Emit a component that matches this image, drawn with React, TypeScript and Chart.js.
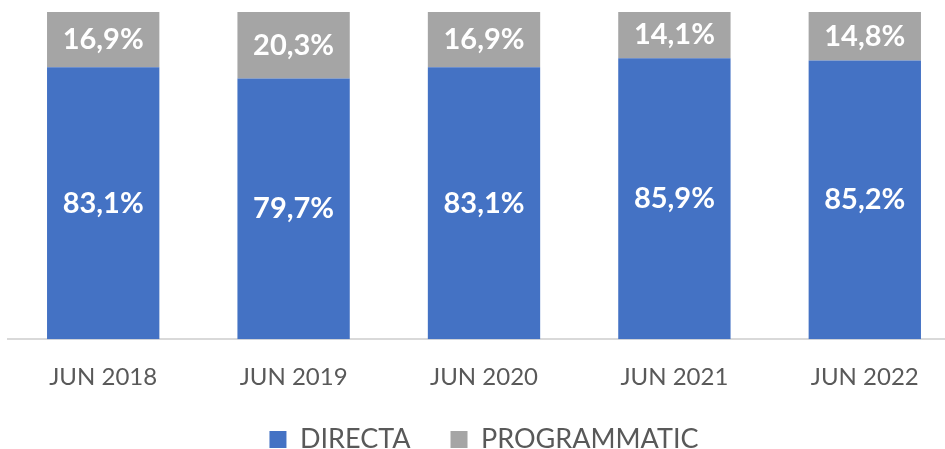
import React, { useEffect, useRef } from "react";
import { Chart, registerables } from "chart.js";

Chart.register(...registerables);

const categories = ["JUN 2018", "JUN 2019", "JUN 2020", "JUN 2021", "JUN 2022"];
const directa = [83.1, 79.7, 83.1, 85.9, 85.2];
const programmatic = [16.9, 20.3, 16.9, 14.1, 14.8];

const labelPlugin = {
  id: "barLabels",
  afterDatasetsDraw(chart: any) {
    const ctx = chart.ctx;
    ctx.save();
    ctx.fillStyle = "#ffffff";
    ctx.font = "bold 29px Lato";
    ctx.textAlign = "center";
    ctx.textBaseline = "middle";
    chart.data.datasets.forEach((ds: any, di: number) => {
      const meta = chart.getDatasetMeta(di);
      meta.data.forEach((bar: any, i: number) => {
        const v = ds.data[i];
        const y = (bar.y + bar.base) / 2;
        ctx.fillText(v.toFixed(1).replace(".", ",") + "%", bar.x, y);
      });
    });
    ctx.restore();
  },
};

export default function App() {
  const ref = useRef<HTMLCanvasElement>(null);
  useEffect(() => {
    const chart = new Chart(ref.current!, {
      type: "bar",
      data: {
        labels: categories,
        datasets: [
          { label: "DIRECTA", data: directa, backgroundColor: "#4472C4" },
          { label: "PROGRAMMATIC", data: programmatic, backgroundColor: "#A5A5A5" },
        ],
      },
      options: {
        animation: false,
        responsive: false,
        layout: { padding: { top: 12, left: 8, right: 0, bottom: 0 } },
        datasets: { bar: { categoryPercentage: 1, barPercentage: 0.59 } } as any,
        scales: {
          x: {
            stacked: true,
            grid: { display: false, drawTicks: false },
            border: { display: true, color: "#d9d9d9", width: 2 },
            ticks: { color: "#595959", font: { family: "Lato", size: 24 }, padding: 24 },
            afterFit: (scale: any) => {
              scale.height -= 30;
            },
          },
          y: { stacked: true, min: 0, max: 100, display: false },
        },
        plugins: {
          legend: {
            position: "bottom",
            labels: {
              color: "#595959",
              font: { family: "Lato", size: 27 },
              boxWidth: 17,
              boxHeight: 17,
              padding: 40,
            },
          },
          tooltip: { enabled: false },
        },
      },
      plugins: [labelPlugin],
    });
    return () => chart.destroy();
  }, []);
  return (
    <div style={{ position: "fixed", left: 0, top: 0, width: 945, height: 449, overflow: "hidden", background: "#fff" }}>
      <canvas ref={ref} width={960} height={463} style={{ display: "block" }} />
    </div>
  );
}
